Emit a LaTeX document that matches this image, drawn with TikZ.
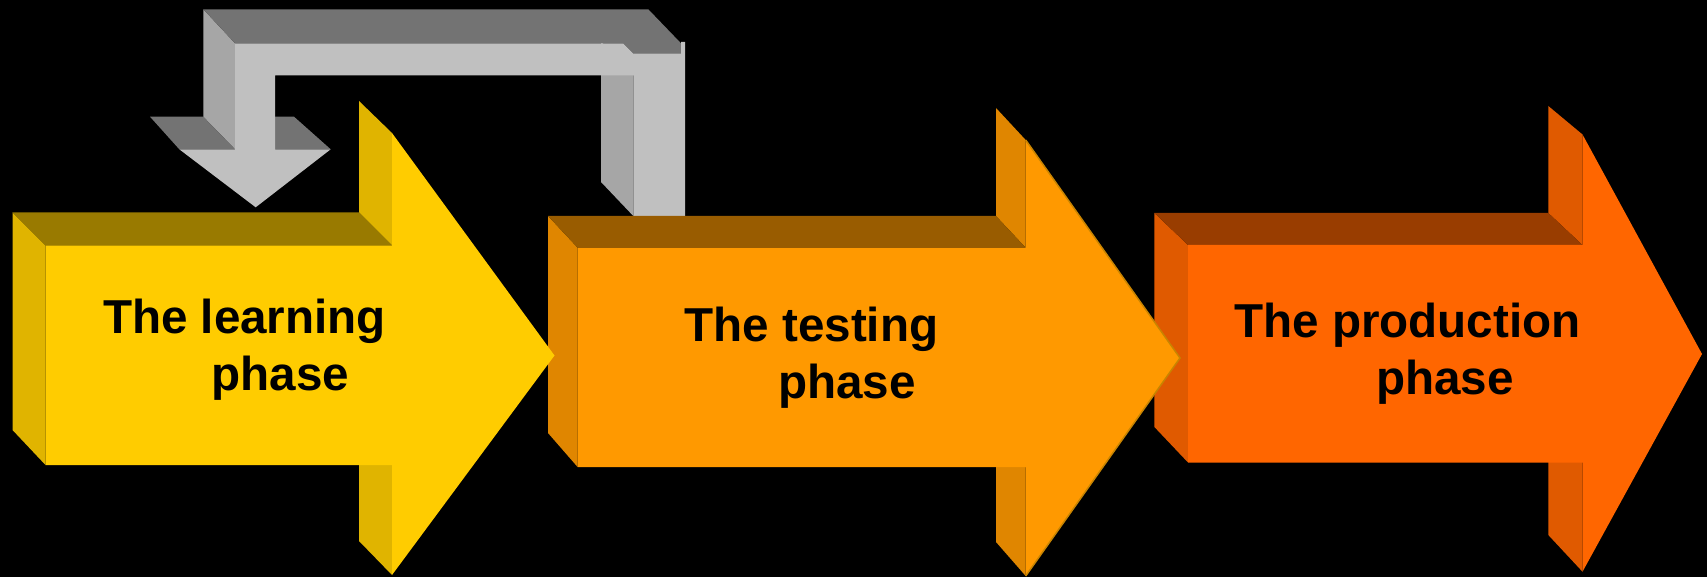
\documentclass[tikz,border=0pt]{standalone}
\usepackage{fontspec}
\setmainfont{Liberation Sans}
\usepackage{tikz}

\definecolor{yellowfront}{HTML}{FFCC00}
\definecolor{yellowside}{HTML}{E0B400}
\definecolor{yellowtop}{HTML}{997A00}
\definecolor{orangefront}{HTML}{FF9900}
\definecolor{orangeside}{HTML}{E08600}
\definecolor{orangetop}{HTML}{995C00}
\definecolor{orangeedge}{HTML}{C88400}
\definecolor{redfront}{HTML}{FF6600}
\definecolor{redside}{HTML}{E05A00}
\definecolor{redtop}{HTML}{993D00}
\definecolor{grayfront}{HTML}{C0C0C0}
\definecolor{grayside}{HTML}{A6A6A6}
\definecolor{graytop}{HTML}{737373}

\begin{document}
\begin{tikzpicture}[x=0.5pt,y=-0.5pt]
  \tikzstyle{phasetext}=[anchor=north west,inner sep=0pt,align=left,text=black,
    font=\fontsize{23.8}{28.35}\selectfont\bfseries]

  \fill[black] (0,0) rectangle (1707,577);
  \useasboundingbox (0,0) rectangle (1707,577);

  % feedback arrow
  \fill[grayside] (203.3,9.3) -- (235,43.3) -- (235,149.3) -- (203.3,116.7) -- cycle;
  \fill[grayside] (601,41.5) -- (633.3,75.5) -- (633.3,216) -- (601,182) -- cycle;
  \fill[graytop] (203.3,9.3) -- (648.3,9.3) -- (681,43.3) -- (681,53.3) -- (633,53.3)
    -- (623,43.3) -- (235,43.3) -- cycle;
  \fill[graytop] (150,116.7) -- (203.3,116.7) -- (235,149.3) -- (179.3,149.3) -- cycle;
  \fill[graytop] (243,116.7) -- (294,116.7) -- (330.7,149.3) -- (275,149.3) -- cycle;
  \fill[grayfront] (633.3,216) -- (633.3,75.5) -- (275,75.5) -- (275,149.3) -- (330.7,149.3)
    -- (255.7,207.3) -- (179.3,149.3) -- (235,149.3) -- (235,43.3) -- (623,43.3)
    -- (633,53.3) -- (681,53.3) -- (681,42) -- (685,42) -- (685,216) -- cycle;

  % production phase
  \fill[redside] (1154.4,213) -- (1188,245) -- (1188,462.5) -- (1154.4,427) -- cycle;
  \fill[redside] (1548.3,106) -- (1582.5,134.5) -- (1582.5,245) -- (1548.3,213) -- cycle;
  \fill[redside] (1548.3,430) -- (1582.5,462.5) -- (1582.5,571.7) -- (1548.3,535) -- cycle;
  \fill[redtop] (1154.4,213) -- (1548.3,213) -- (1582.5,245) -- (1188,245) -- cycle;
  \fill[redfront] (1188,245) -- (1582.5,245) -- (1582.5,134.5) -- (1702,354)
    -- (1582.5,571.7) -- (1582.5,462.5) -- (1188,462.5) -- cycle;

  % testing phase
  \fill[orangeside] (548,216) -- (577.6,247.7) -- (577.6,467) -- (548,433) -- cycle;
  \fill[orangeside] (996,108) -- (1025.7,140) -- (1025.7,247.7) -- (996,216) -- cycle;
  \fill[orangeside] (996,435) -- (1025.7,467) -- (1025.7,576) -- (996,542) -- cycle;
  \fill[orangetop] (548,216) -- (996,216) -- (1025.7,247.7) -- (577.6,247.7) -- cycle;
  \fill[orangefront] (577.6,247.7) -- (1025.7,247.7) -- (1025.7,140) -- (1180,358)
    -- (1025.7,576) -- (1025.7,467) -- (577.6,467) -- cycle;
  \draw[orangeedge,line width=0.75pt] (1025.7,140) -- (1180,358) -- (1025.7,576);

  % learning phase
  \fill[yellowside] (12.5,212.5) -- (45.5,245.5) -- (45.5,465) -- (12.5,430) -- cycle;
  \fill[yellowside] (359,101) -- (392,133) -- (392,245.5) -- (359,212.5) -- cycle;
  \fill[yellowside] (359,432) -- (392,465) -- (392,575) -- (359,541) -- cycle;
  \fill[yellowtop] (12.5,212.5) -- (359,212.5) -- (392,245.5) -- (45.5,245.5) -- cycle;
  \fill[yellowfront] (45.5,245.5) -- (392,245.5) -- (392,133) -- (554.5,355.5)
    -- (392,575) -- (392,465) -- (45.5,465) -- cycle;

  \node[phasetext] (learning) at (102.6,298.5) {The learning\\\hspace*{54.2pt}phase};
  \node[phasetext] (testing) at (684,306.7) {The testing\\\hspace*{46.9pt}phase};
  \node[phasetext] (production) at (1233.8,303) {The production\\\hspace*{71pt}phase};
\end{tikzpicture}
\end{document}
